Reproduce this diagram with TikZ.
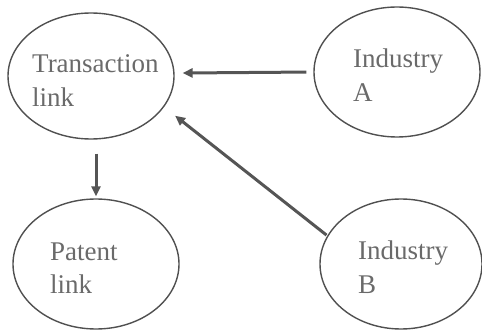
\documentclass[tikz,border=0pt]{standalone}
\usepackage{fontspec}
\setmainfont{Liberation Serif}
\usetikzlibrary{arrows.meta,calc,shapes.geometric}
\definecolor{txtgray}{HTML}{6A6A6A}
\definecolor{linegray}{HTML}{505050}
\definecolor{arrgray}{HTML}{555555}
\begin{document}
\begin{tikzpicture}[x=1pt,y=-1pt,
  oval/.style={draw=linegray, line width=1.4pt, ellipse, inner sep=0pt},
  lbl/.style={anchor=base west, inner sep=0pt, text=txtgray, font=\fontsize{27}{34}\selectfont},
  conn/.style={draw=arrgray, line width=3pt, -{Triangle[length=10pt,width=9pt]}}]
\useasboundingbox (0,0) rectangle (482,331);
\node[oval, minimum width=166pt, minimum height=126pt] (T) at (91,76) {};
\node[oval, minimum width=166pt, minimum height=130pt] (A) at (397,72) {};
\node[oval, minimum width=166pt, minimum height=130pt] (P) at (96,264) {};
\node[oval, minimum width=162pt, minimum height=130pt] (B) at (401,264) {};
\node[lbl] (t1) at (32,73) {Transaction};
\node[lbl] (t2) at (32,107) {link};
\node[lbl] (a1) at (353,68) {Industry};
\node[lbl] (a2) at (353,102) {A};
\node[lbl] (p1) at (50,261) {Patent};
\node[lbl] (p2) at (50,294) {link};
\node[lbl] (b1) at (358,259) {Industry};
\node[lbl] (b2) at (358,294) {B};
\draw[conn, shorten <=7pt, shorten >=8pt] (A.180) -- (T.2);
\draw[conn, shorten <=1pt, shorten >=14pt] (B.159) -- (T.-23);
\draw[conn, shorten <=14pt, shorten >=2pt] (P.north |- T.south) -- (P.north);
\end{tikzpicture}
\end{document}
